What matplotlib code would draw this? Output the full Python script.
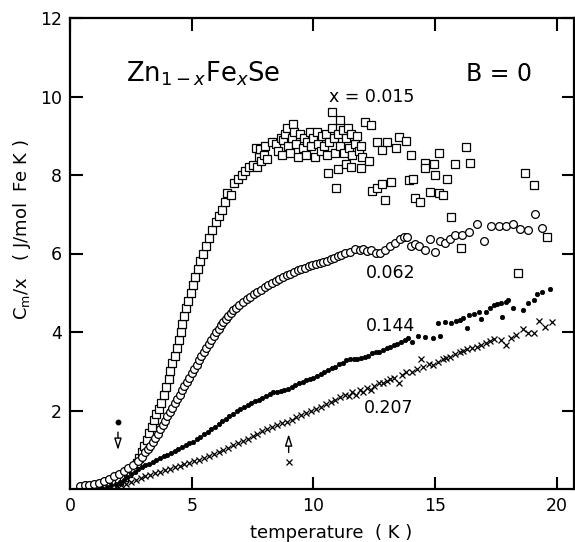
import numpy as np
import matplotlib
matplotlib.use("Agg")
import matplotlib.pyplot as plt

# x = 0.015 (open squares)
sq_T = [1.8, 2.0, 2.2, 2.4, 2.6, 2.75, 2.85, 2.95, 3.05, 3.15, 3.25, 3.35, 3.45, 3.55, 3.65,
        3.75, 3.85, 3.95, 4.05, 4.12, 4.2, 4.3, 4.38, 4.46, 4.54, 4.62, 4.7, 4.78, 4.86, 4.95,
        5.05, 5.15, 5.25, 5.35, 5.47, 5.6, 5.72, 5.85, 5.98, 6.1, 6.25, 6.35, 6.45, 6.6, 6.75,
        6.9, 7.05, 7.2, 7.35, 7.5, 7.65, 7.7, 7.75, 7.8, 7.85, 7.95, 8.0, 8.1, 8.3, 8.45, 8.55,
        8.65, 8.7, 8.75, 8.85, 8.9, 8.95, 9.05, 9.1, 9.15, 9.2, 9.3, 9.35, 9.45, 9.55, 9.6,
        9.7, 9.75, 9.85, 9.9, 10.0, 10.05, 10.15, 10.2, 10.3, 10.35, 10.45, 10.5, 10.55, 10.6,
        10.65, 10.75, 10.75, 10.85, 10.9, 10.94, 11.0, 11.0, 11.07, 11.1, 11.2, 11.25, 11.35,
        11.35, 11.4, 11.45, 11.55, 11.56, 11.6, 11.7, 11.8, 11.85, 11.95, 11.97, 12.0, 12.1,
        12.3, 12.35, 12.4, 12.6, 12.6, 12.8, 12.8, 12.95, 13.0, 13.2, 13.4, 13.5, 13.8, 13.93,
        14.0, 14.1, 14.18, 14.38, 14.6, 14.6, 14.8, 14.96, 15.0, 15.16, 15.16, 15.33, 15.5,
        15.66, 15.8, 16.07, 16.27, 16.43, 18.4, 18.7, 19.06, 19.6]
sq_C = [0.12, 0.2, 0.3, 0.4, 0.5, 0.65, 0.8, 0.95, 1.1, 1.25, 1.42, 1.58, 1.75, 1.9, 2.05,
        2.2, 2.4, 2.6, 2.8, 3.0, 3.2, 3.4, 3.6, 3.8, 4.0, 4.2, 4.4, 4.6, 4.8, 5.0,
        5.2, 5.4, 5.6, 5.8, 6.0, 6.2, 6.4, 6.6, 6.8, 6.95, 7.1, 7.3, 7.55, 7.5, 7.8,
        7.9, 8.0, 8.1, 8.2, 8.25, 8.7, 8.2, 8.45, 8.65, 8.35, 8.5, 8.75, 8.4, 8.85, 8.8, 8.6,
        8.95, 8.5, 8.9, 9.05, 9.2, 8.75, 8.55, 8.95, 9.3, 9.1, 8.8, 8.45, 9.05, 8.7, 8.95,
        8.5, 8.85, 9.1, 8.75, 8.95, 8.45, 9.1, 8.8, 8.6, 9.0, 8.75, 9.05, 8.5, 8.05,
        8.85, 9.2, 9.6, 8.95, 8.55, 7.67, 9.05, 8.15, 9.4, 8.75, 9.15, 8.55, 8.95,
        8.28, 9.2, 8.7, 9.05, 8.2, 8.5, 8.8, 9.0, 8.6, 8.75, 8.18, 8.45, 9.35,
        8.36, 9.27, 7.6, 8.85, 7.67, 8.64, 7.77, 7.36, 8.85, 7.82, 8.68, 8.97, 8.87, 7.87,
        8.5, 7.9, 7.41, 7.31, 8.3, 8.18, 7.57, 8.28, 8.0, 8.56, 7.54, 7.49, 7.9,
        6.93, 8.28, 6.14, 8.72, 8.3, 5.5, 8.05, 7.75, 6.42]

# x = 0.062 (open circles)
ci_T = [0.4, 0.6, 0.8, 1.0, 1.2, 1.4, 1.6, 1.8, 2.0, 2.2, 2.4, 2.6, 2.8, 2.95, 3.1, 3.2, 3.3,
        3.4, 3.5, 3.6, 3.7, 3.8, 3.9, 4.0, 4.1, 4.2, 4.3, 4.4, 4.5, 4.6, 4.7, 4.8, 4.9, 5.0,
        5.1, 5.2, 5.3, 5.4, 5.5, 5.6, 5.7, 5.8, 5.9, 6.0, 6.1, 6.2, 6.3, 6.4, 6.5, 6.6, 6.7,
        6.8, 6.95, 7.1, 7.25, 7.4, 7.55, 7.7, 7.85, 8.0, 8.15, 8.3, 8.45, 8.6, 8.75, 8.9, 9.05,
        9.2, 9.35, 9.5, 9.65, 9.8, 9.95, 10.1, 10.25, 10.4, 10.55, 10.7, 10.85, 11.0, 11.15,
        11.3, 11.5, 11.7, 11.9, 12.05, 12.2, 12.35, 12.55, 12.75, 12.95, 13.15, 13.35, 13.55,
        13.7, 13.85, 14.0, 14.15, 14.35, 14.6, 14.8, 15.0, 15.2, 15.4, 15.6, 15.8, 16.1, 16.4,
        16.7, 17.0, 17.3, 17.6, 17.9, 18.2, 18.5, 18.8, 19.1, 19.4]
ci_C = [0.08, 0.09, 0.10, 0.12, 0.15, 0.20, 0.26, 0.32, 0.39, 0.46, 0.54, 0.62, 0.72, 0.82,
        0.93, 1.02, 1.10, 1.20, 1.31, 1.41, 1.52, 1.63, 1.74, 1.85, 1.96, 2.07, 2.18, 2.29,
        2.40, 2.51, 2.62, 2.73, 2.84, 2.95, 3.06, 3.17, 3.28, 3.39, 3.50, 3.60, 3.70, 3.80,
        3.90, 3.99, 4.08, 4.17, 4.25, 4.33, 4.41, 4.48, 4.55, 4.61, 4.69, 4.76, 4.83, 4.90,
        4.96, 5.02, 5.08, 5.14, 5.20, 5.25, 5.30, 5.35, 5.40, 5.45, 5.49, 5.53, 5.57, 5.60,
        5.64, 5.67, 5.70, 5.73, 5.76, 5.79, 5.82, 5.85, 5.88, 5.93, 5.97, 6.01, 6.05, 6.11,
        6.09, 6.12, 6.06, 6.08, 6.02, 6.02, 6.08, 6.18, 6.26, 6.37, 6.43, 6.42, 6.20, 6.24,
        6.18, 6.10, 6.38, 6.03, 6.33, 6.28, 6.38, 6.46, 6.47, 6.55, 6.75, 6.32, 6.70, 6.70,
        6.70, 6.75, 6.62, 6.60, 7.00, 6.65]

# x = 0.144 (filled dots)
do_T = [1.3, 1.5, 1.7, 1.9, 2.05, 2.2, 2.35, 2.5, 2.65, 2.8, 2.95, 3.1, 3.25, 3.4, 3.55, 3.7,
        3.85, 4.0, 4.15, 4.3, 4.45, 4.6, 4.75, 4.9, 5.05, 5.2, 5.35, 5.5, 5.65, 5.8, 5.95, 6.1,
        6.25, 6.4, 6.55, 6.7, 6.85, 7.0, 7.15, 7.3, 7.45, 7.6, 7.75, 7.9, 8.05, 8.2, 8.35, 8.5,
        8.65, 8.8, 8.95, 9.1, 9.25, 9.4, 9.55, 9.7, 9.85, 10.0, 10.15, 10.3, 10.45, 10.6, 10.75,
        10.9, 11.05, 11.2, 11.35, 11.5, 11.65, 11.8, 11.95, 12.1, 12.25, 12.4, 12.55, 12.7,
        12.85, 13.0, 13.15, 13.3, 13.45, 13.6, 13.75, 13.9, 14.06, 14.3, 14.6, 14.9, 15.1,
        15.2, 15.4, 15.66, 15.85, 16.0, 16.15, 16.3, 16.4, 16.6, 16.8, 16.9, 17.1, 17.25, 17.4,
        17.55, 17.7, 17.75, 17.9, 18.0, 18.2, 18.6, 18.8, 19.06, 19.2, 19.4, 19.7]
do_C = [0.03, 0.06, 0.10, 0.14, 0.18, 0.24, 0.30, 0.37, 0.44, 0.50, 0.55, 0.60, 0.64, 0.69,
        0.73, 0.78, 0.83, 0.87, 0.92, 0.96, 1.01, 1.06, 1.11, 1.16, 1.21, 1.27, 1.33, 1.39,
        1.45, 1.52, 1.58, 1.65, 1.72, 1.79, 1.85, 1.92, 1.98, 2.03, 2.08, 2.13, 2.18, 2.23,
        2.28, 2.33, 2.38, 2.42, 2.46, 2.48, 2.50, 2.52, 2.55, 2.61, 2.65, 2.70, 2.73, 2.77,
        2.80, 2.84, 2.89, 2.93, 2.98, 3.03, 3.08, 3.10, 3.18, 3.22, 3.28, 3.30, 3.31, 3.32,
        3.33, 3.36, 3.40, 3.46, 3.50, 3.49, 3.54, 3.58, 3.62, 3.67, 3.70, 3.75, 3.80, 3.84,
        3.75, 3.90, 3.87, 3.85, 4.23, 3.90, 4.25, 4.23, 4.28, 4.30, 4.35, 4.10, 4.43, 4.45,
        4.50, 4.33, 4.50, 4.60, 4.69, 4.72, 4.74, 4.38, 4.77, 4.81, 4.61, 4.56, 4.74, 4.81,
        4.98, 5.02, 5.10]

# x = 0.207 (crosses)
cr_T = [1.9, 2.1, 2.3, 2.5, 2.7, 2.9, 3.1, 3.3, 3.5, 3.7, 3.9, 4.1, 4.3, 4.5, 4.7, 4.9, 5.1,
        5.3, 5.5, 5.7, 5.9, 6.1, 6.3, 6.5, 6.7, 6.9, 7.1, 7.3, 7.5, 7.7, 7.9, 8.1, 8.3, 8.5,
        8.7, 8.9, 9.1, 9.3, 9.5, 9.7, 9.9, 10.1, 10.3, 10.5, 10.7, 10.9, 11.1, 11.3, 11.45,
        11.6, 11.75, 11.9, 12.05, 12.2, 12.35, 12.5, 12.7, 12.85, 13.0, 13.15, 13.3, 13.5,
        13.65, 13.8, 14.06, 14.25, 14.4, 14.5, 14.75, 14.9, 15.1, 15.3, 15.45, 15.6, 15.8,
        16.0, 16.15, 16.3, 16.5, 16.7, 16.9, 17.1, 17.25, 17.4, 17.7, 17.9, 18.1, 18.3, 18.6,
        18.8, 19.06, 19.26, 19.5, 19.8]
cr_C = [0.05, 0.09, 0.14, 0.19, 0.24, 0.28, 0.32, 0.36, 0.40, 0.44, 0.48, 0.52, 0.56, 0.59,
        0.63, 0.67, 0.71, 0.75, 0.79, 0.83, 0.88, 0.94, 1.00, 1.05, 1.11, 1.16, 1.22, 1.28,
        1.35, 1.41, 1.47, 1.52, 1.57, 1.62, 1.67, 1.71, 1.77, 1.83, 1.88, 1.94, 2.00, 2.05,
        2.10, 2.16, 2.22, 2.28, 2.34, 2.40, 2.36, 2.48, 2.40, 2.52, 2.46, 2.57, 2.52, 2.62,
        2.70, 2.69, 2.75, 2.80, 2.83, 2.70, 2.90, 2.98, 2.99, 3.05, 3.31, 3.11, 3.18, 3.17,
        3.24, 3.30, 3.34, 3.36, 3.44, 3.48, 3.52, 3.57, 3.59, 3.62, 3.67, 3.72, 3.76, 3.82,
        3.80, 3.67, 3.85, 3.92, 4.08, 3.97, 3.97, 4.28, 4.13, 4.26]

series_labels = ["x = 0.015", "0.062", "0.144", "0.207"]

plt.rcParams['font.family'] = ['DejaVu Sans']

fig = plt.figure(figsize=(5.75, 5.42), dpi=100)
ax = fig.add_axes([70 / 575, 53 / 542, 504 / 575, 471 / 542])

ax.plot(sq_T, sq_C, ls='none', marker='s', ms=5.4, mfc='white', mec='black', mew=0.9)
ax.plot(ci_T, ci_C, ls='none', marker='o', ms=5.6, mfc='white', mec='black', mew=0.9)
ax.plot(do_T, do_C, ls='none', marker='o', ms=3.2, mfc='black', mec='black', mew=0.5)
ax.plot(cr_T, cr_C, ls='none', marker='x', ms=4.0, mec='black', mew=0.9)

# arrows marking the freezing temperatures
ax.plot([1.97], [1.7], ls='none', marker='o', ms=3.2, color='black')
ax.annotate('', xy=(1.97, 0.92), xytext=(1.97, 1.52),
            arrowprops=dict(arrowstyle='-|>,head_length=0.7,head_width=0.22',
                            fc='white', ec='black', lw=1.0))
ax.plot([8.98], [0.69], ls='none', marker='x', ms=3.8, mec='black', mew=0.9)
ax.annotate('', xy=(8.98, 1.47), xytext=(8.98, 0.86),
            arrowprops=dict(arrowstyle='-|>,head_length=0.7,head_width=0.22',
                            fc='white', ec='black', lw=1.0))

ax.text(2.3, 10.57, r'Zn$_{1-x}$Fe$_x$Se', fontsize=18.5, va='center', ha='left')
ax.text(17.6, 10.57, 'B = 0', fontsize=17, va='center', ha='center')
ax.text(12.4, 9.99, series_labels[0], fontsize=12.5, va='center', ha='center')
ax.text(13.16, 5.5, series_labels[1], fontsize=12.5, va='center', ha='center')
ax.text(13.16, 4.15, series_labels[2], fontsize=12.5, va='center', ha='center')
ax.text(13.1, 2.06, series_labels[3], fontsize=12.5, va='center', ha='center')

ax.set_xlim(0, 20.7)
ax.set_ylim(0, 12)
ax.set_xticks([0, 5, 10, 15, 20])
ax.set_yticks([2, 4, 6, 8, 10, 12])
ax.tick_params(direction='in', top=True, right=True, length=9, width=1.5,
               labelsize=12.5, pad=6)
for s in ax.spines.values():
    s.set_linewidth(1.6)

fig.text(331 / 575, 1 - 533 / 542, 'temperature  ( K )', fontsize=13,
         ha='center', va='center')
fig.text(22 / 575, 1 - 230 / 542, r'C$_{\mathrm{m}}$/x   ( J/mol  Fe K )', fontsize=13,
         ha='center', va='center', rotation=90)

fig.savefig('out.png', dpi=100)
